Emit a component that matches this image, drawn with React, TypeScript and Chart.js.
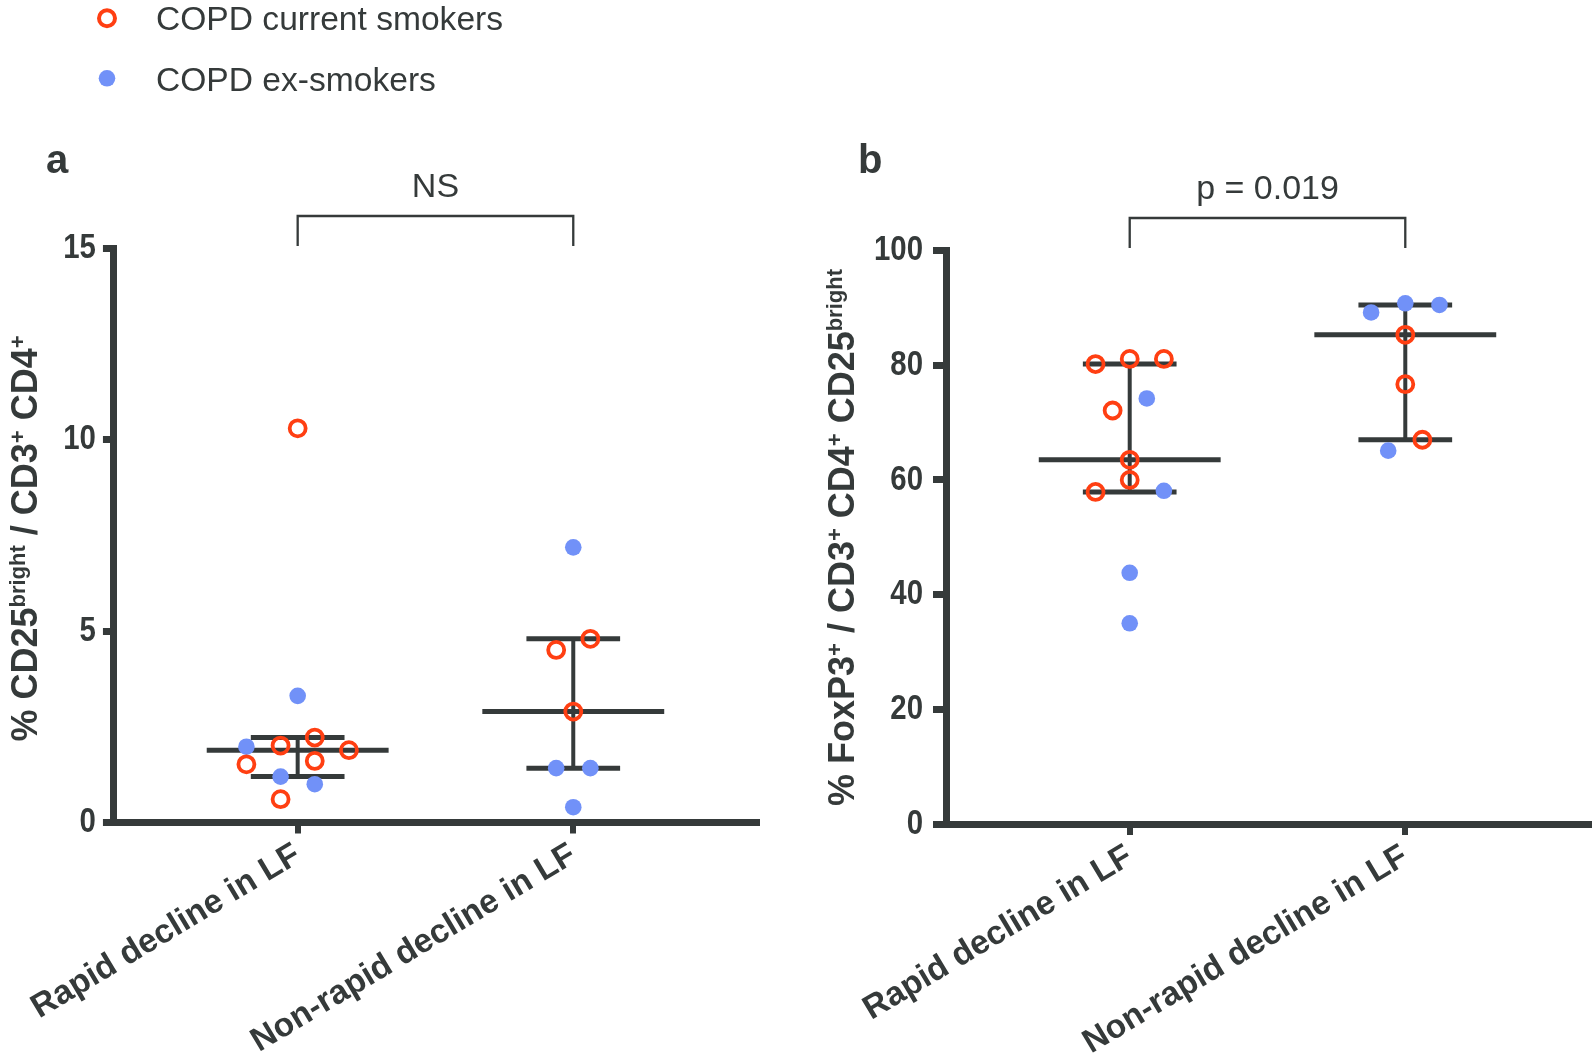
import React, { useEffect, useRef } from 'react';
import { Chart, registerables } from 'chart.js';

Chart.register(...registerables);

// ---------- data ----------
const categories = ['Rapid decline in LF', 'Non-rapid decline in LF'];
const legendLabels = ['COPD current smokers', 'COPD ex-smokers'];

// Panel a: % CD25bright / CD3+ CD4+
const aCurrentRapid = [10.3, 2.22, 2.01, 1.89, 1.61, 1.52, 0.61];
const aCurrentRapidSlot = [0, 1, -1, 3, 1, -3, -1];
const aExRapid = [3.31, 1.98, 1.2, 1.0];
const aExRapidSlot = [0, -3, -1, 1];
const aCurrentNon = [4.8, 4.51, 2.9];
const aCurrentNonSlot = [1, -1, 0];
const aExNon = [7.19, 1.42, 1.42, 0.4];
const aExNonSlot = [0, -1, 1, 0];
const aMedian = [1.89, 2.9];
const aQ3 = [2.22, 4.8];
const aQ1 = [1.2, 1.42];
const aYMax = 15;
const aYStep = 5;
const aSignif = 'NS';

// Panel b: % FoxP3+ / CD3+ CD4+ CD25bright
const bCurrentRapid = [81.1, 81.1, 80.2, 72.1, 63.5, 60.0, 57.9];
const bCurrentRapidSlot = [0, 2, -2, -1, 0, 0, -2];
const bExRapid = [74.2, 58.1, 43.8, 35.0];
const bExRapidSlot = [1, 2, 0, 0];
const bCurrentNon = [85.3, 76.7, 67.0];
const bCurrentNonSlot = [0, 0, 1];
const bExNon = [90.8, 90.5, 89.2, 65.1];
const bExNonSlot = [0, 2, -2, -1];
const bMedian = [63.5, 85.3];
const bQ3 = [80.2, 90.5];
const bQ1 = [57.9, 67.0];
const bYMax = 100;
const bYStep = 20;
const bSignif = 'p = 0.019';

type Seg = { t: string; sup?: boolean };
const aTitle: Seg[] = [
  { t: '% CD25' }, { t: 'bright', sup: true }, { t: ' / CD3' }, { t: '+', sup: true },
  { t: ' CD4' }, { t: '+', sup: true },
];
const bTitle: Seg[] = [
  { t: '% FoxP3' }, { t: '+', sup: true }, { t: ' / CD3' }, { t: '+', sup: true },
  { t: ' CD4' }, { t: '+', sup: true }, { t: ' CD25' }, { t: 'bright', sup: true },
];

// ---------- style ----------
const RED = '#FF3F12';
const BLUE = '#7191F8';
const DARK = '#353A3A';
const FONT = '"Liberation Sans", Arial, Helvetica, sans-serif';
const SLOT = 0.062;
const MED_HALF = 0.33;
const CAP_HALF = 0.17;

interface Panel {
  curR: number[]; curRS: number[]; exR: number[]; exRS: number[];
  curN: number[]; curNS: number[]; exN: number[]; exNS: number[];
  med: number[]; q3: number[]; q1: number[];
  yMax: number; yStep: number; sig: string; title: Seg[]; letter: string;
  // layout (pixels inside the panel canvas)
  left: number; top: number; right: number; bottom: number;
  tickLen: number; tickPad: number;
  titleBaseX: number; titleCY: number; letterX: number; legend: boolean;
}

const W = 797;
const H = 1061;

const panelA: Panel = {
  curR: aCurrentRapid, curRS: aCurrentRapidSlot, exR: aExRapid, exRS: aExRapidSlot,
  curN: aCurrentNon, curNS: aCurrentNonSlot, exN: aExNon, exNS: aExNonSlot,
  med: aMedian, q3: aQ3, q1: aQ1, yMax: aYMax, yStep: aYStep, sig: aSignif,
  title: aTitle, letter: 'a',
  left: 113.5, top: 248.5, right: 757, bottom: 822.5, tickLen: 11, tickPad: 7,
  titleBaseX: 37, titleCY: 538.5, letterX: 46, legend: true,
};
const panelB: Panel = {
  curR: bCurrentRapid, curRS: bCurrentRapidSlot, exR: bExRapid, exRS: bExRapidSlot,
  curN: bCurrentNon, curNS: bCurrentNonSlot, exN: bExNon, exNS: bExNonSlot,
  med: bMedian, q3: bQ3, q1: bQ1, yMax: bYMax, yStep: bYStep, sig: bSignif,
  title: bTitle, letter: 'b',
  left: 149, top: 250.5, right: 792, bottom: 824, tickLen: 13, tickPad: 10,
  titleBaseX: 57, titleCY: 537.5, letterX: 61, legend: false,
};

function pts(values: number[], slots: number[], cat: number) {
  return values.map((v, i) => ({ x: cat + slots[i] * SLOT, y: v }));
}

function seg(x0: number, y0: number, x1: number, y1: number, width: number) {
  return {
    type: 'line' as const,
    data: [{ x: x0, y: y0 }, { x: x1, y: y1 }],
    showLine: true,
    borderColor: DARK,
    borderWidth: width,
    borderCapStyle: 'butt' as const,
    pointRadius: 0,
    pointHoverRadius: 0,
    fill: false,
  };
}

function drawRich(ctx: CanvasRenderingContext2D, segs: Seg[], baseX: number, cy: number, size: number) {
  const base = `bold ${size}px ${FONT}`;
  const supSize = Math.round(size * 0.6);
  const sup = `bold ${supSize}px ${FONT}`;
  const widths = segs.map((s) => {
    ctx.font = s.sup ? sup : base;
    return ctx.measureText(s.t).width;
  });
  const total = widths.reduce((a, b) => a + b, 0);
  ctx.save();
  ctx.translate(baseX, cy);
  ctx.rotate(-Math.PI / 2);
  ctx.fillStyle = DARK;
  ctx.textAlign = 'left';
  ctx.textBaseline = 'alphabetic';
  let x = -total / 2;
  segs.forEach((s, i) => {
    ctx.font = s.sup ? sup : base;
    ctx.fillText(s.t, x, s.sup ? -size * 0.33 : 0);
    x += widths[i];
  });
  ctx.restore();
}

function buildConfig(p: Panel): any {
  const current = [...pts(p.curR, p.curRS, 0), ...pts(p.curN, p.curNS, 1)];
  const ex = [...pts(p.exR, p.exRS, 0), ...pts(p.exN, p.exNS, 1)];
  const lines: any[] = [];
  [0, 1].forEach((c) => {
    lines.push(seg(c - MED_HALF, p.med[c], c + MED_HALF, p.med[c], 5));
    lines.push(seg(c - CAP_HALF, p.q3[c], c + CAP_HALF, p.q3[c], 5));
    lines.push(seg(c - CAP_HALF, p.q1[c], c + CAP_HALF, p.q1[c], 5));
    lines.push(seg(c, p.q1[c], c, p.q3[c], 4));
  });

  const extras = {
    id: 'extras',
    afterDraw(chart: any) {
      const ctx: CanvasRenderingContext2D = chart.ctx;
      const top = chart.chartArea.top;
      const xs = chart.scales.x;
      const ys = chart.scales.y;
      const x0 = xs.getPixelForValue(0);
      const x1 = xs.getPixelForValue(1);
      ctx.save();
      // condensed y tick labels (from the scale's own ticks)
      ctx.fillStyle = DARK;
      ctx.font = `bold 35px ${FONT}`;
      ctx.textAlign = 'right';
      ctx.textBaseline = 'middle';
      const labelRight = chart.chartArea.left - p.tickLen - p.tickPad;
      ys.ticks.forEach((t: any) => {
        const py = ys.getPixelForValue(t.value);
        ctx.save();
        ctx.translate(labelRight, py);
        ctx.scale(0.84, 1);
        ctx.fillText(String(t.label ?? t.value), 0, 0);
        ctx.restore();
      });
      // significance bracket
      ctx.strokeStyle = DARK;
      ctx.lineWidth = 2.3;
      ctx.beginPath();
      ctx.moveTo(x0, top - 2.5);
      ctx.lineTo(x0, top - 32.5);
      ctx.lineTo(x1, top - 32.5);
      ctx.lineTo(x1, top - 2.5);
      ctx.stroke();
      ctx.fillStyle = DARK;
      ctx.font = `34px ${FONT}`;
      ctx.textAlign = 'center';
      ctx.textBaseline = 'alphabetic';
      ctx.fillText(p.sig, (x0 + x1) / 2, top - 51.5);
      // panel letter
      ctx.font = `bold 40px ${FONT}`;
      ctx.textAlign = 'left';
      ctx.fillText(p.letter, p.letterX, 173);
      // y title
      drawRich(ctx, p.title, p.titleBaseX, p.titleCY, 36);
      // legend
      if (p.legend) {
        ctx.beginPath();
        ctx.arc(107, 18.3, 8, 0, Math.PI * 2);
        ctx.strokeStyle = RED;
        ctx.lineWidth = 4;
        ctx.stroke();
        ctx.beginPath();
        ctx.arc(107, 78.3, 8.3, 0, Math.PI * 2);
        ctx.fillStyle = BLUE;
        ctx.fill();
        ctx.fillStyle = DARK;
        ctx.font = `33.6px ${FONT}`;
        ctx.textAlign = 'left';
        ctx.fillText(legendLabels[0], 156, 30);
        ctx.fillText(legendLabels[1], 156, 90.5);
      }
      ctx.restore();
    },
  };

  return {
    type: 'scatter',
    data: {
      datasets: [
        {
          label: legendLabels[0],
          data: current,
          pointStyle: 'circle',
          pointRadius: 8,
          pointHoverRadius: 8,
          pointBorderWidth: 3.8,
          pointBorderColor: RED,
          pointBackgroundColor: 'rgba(0,0,0,0)',
          showLine: false,
        },
        {
          label: legendLabels[1],
          data: ex,
          pointStyle: 'circle',
          pointRadius: 8.3,
          pointHoverRadius: 8.3,
          pointBorderWidth: 0,
          pointBackgroundColor: BLUE,
          showLine: false,
        },
        ...lines,
      ],
    },
    options: {
      animation: false,
      responsive: false,
      devicePixelRatio: 1,
      events: [],
      layout: {
        autoPadding: false,
        padding: { left: 0, top: p.top, right: W - p.right, bottom: 0 },
      },
      plugins: { legend: { display: false }, tooltip: { enabled: false } },
      scales: {
        x: {
          type: 'linear',
          min: -2 / 3,
          max: 5 / 3,
          afterFit: (s: any) => { s.height = H - p.bottom; },
          afterBuildTicks: (s: any) => { s.ticks = [{ value: 0 }, { value: 1 }]; },
          grid: { drawOnChartArea: false, drawTicks: true, tickLength: 11, lineWidth: 6, color: DARK },
          border: { display: true, width: 7, color: DARK },
          ticks: {
            autoSkip: false,
            minRotation: 31,
            maxRotation: 31,
            padding: 2,
            color: DARK,
            font: { family: FONT, size: 33.5, weight: 'bold' },
            callback: (v: number) => categories[Math.round(v)],
          },
        },
        y: {
          type: 'linear',
          min: 0,
          max: p.yMax,
          afterFit: (s: any) => { s.width = p.left; },
          grid: { drawOnChartArea: false, drawTicks: true, tickLength: p.tickLen, lineWidth: 7, color: DARK },
          border: { display: true, width: 7, color: DARK },
          ticks: {
            display: false,
            stepSize: p.yStep,
            padding: p.tickPad,
            color: DARK,
            font: { family: FONT, size: 34, weight: 'bold' },
          },
        },
      },
    },
    plugins: [extras],
  };
}

export default function App() {
  const refA = useRef<HTMLCanvasElement>(null);
  const refB = useRef<HTMLCanvasElement>(null);
  useEffect(() => {
    const ca = new Chart(refA.current as HTMLCanvasElement, buildConfig(panelA));
    const cb = new Chart(refB.current as HTMLCanvasElement, buildConfig(panelB));
    return () => {
      ca.destroy();
      cb.destroy();
    };
  }, []);
  return (
    <div style={{ position: 'fixed', left: 0, top: 0, width: 1594, height: 1061, background: '#ffffff' }}>
      <canvas ref={refA} width={W} height={H} style={{ position: 'absolute', left: 0, top: 0, width: W, height: H }} />
      <canvas ref={refB} width={W} height={H} style={{ position: 'absolute', left: W, top: 0, width: W, height: H }} />
    </div>
  );
}
